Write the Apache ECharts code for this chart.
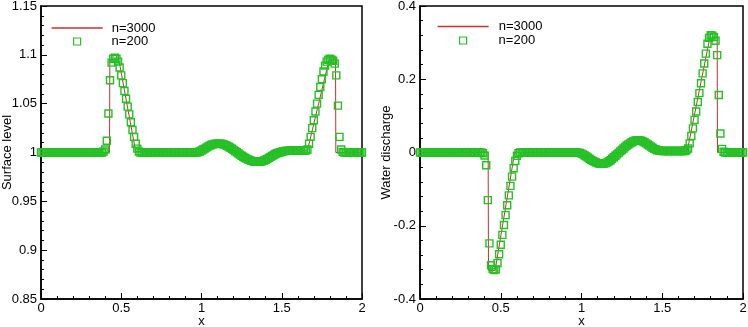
<!DOCTYPE html>
<html>
<head>
<meta charset="utf-8">
<script src="https://cdn.jsdelivr.net/npm/echarts@6/dist/echarts.min.js"></script>
<style>
  html, body { margin: 0; padding: 0; background: #fff; }
  #chart { width: 748px; height: 327px; }
</style>
</head>
<body>
<div id="chart"></div>
<script>
// ---------- DATA ----------
const xTicks = [0, 0.5, 1, 1.5, 2];
const levelTicks = [0.85, 0.9, 0.95, 1, 1.05, 1.1, 1.15];
const dischargeTicks = [-0.4, -0.2, 0, 0.2, 0.4];

// surface level, n=200 (index i -> x = i/100)
const level200 = [
  1,1,1,1,1,1,1,1,1,1,
  1,1,1,1,1,1,1,1,1,1,
  1,1,1,1,1,1,1,1,1,1,
  1,1,1,1,1,1,1,1,1,1.001,
  1.003,1.012,1.040,1.074,1.092,1.096,1.097,1.096,1.093,1.087,
  1.079,1.071,1.063,1.055,1.047,1.039,1.031,1.023,1.016,1.009,
  1.004,1.001,1,1,1,1,1,1,1,1,
  1,1,1,1,1,1,1,1,1,1,
  1,1,1,1,1,1,1,1,1,1,
  1,1,1,1,1,1,1,1,1.0005,1.001,
  1.002,1.003,1.004,1.005,1.006,1.007,1.0077,1.0083,1.0087,1.009,
  1.0091,1.0091,1.009,1.0087,1.0082,1.0076,1.0068,1.0059,1.0049,1.0038,
  1.0026,1.0014,1.0002,0.999,0.9978,0.9967,0.9956,0.9946,0.9937,0.9929,
  0.9922,0.9916,0.9911,0.9908,0.9906,0.9905,0.9906,0.9908,0.9912,0.9918,
  0.9926,0.9935,0.9945,0.9955,0.9965,0.9975,0.9984,0.9992,0.9998,1.0003,
  1.0008,1.0012,1.0015,1.0017,1.0018,1.0019,1.002,1.002,1.002,1.002,
  1.002,1.002,1.002,1.002,1.002,1.002,1.003,1.009,1.016,1.025,
  1.033,1.042,1.050,1.059,1.067,1.075,1.083,1.089,1.093,1.095,
  1.096,1.095,1.094,1.091,1.079,1.048,1.016,1.003,1.0005,1,
  1,1,1,1,1,1,1,1,1,1,
  1
];

// water discharge, n=200
const discharge200 = [
  0,0,0,0,0,0,0,0,0,0,
  0,0,0,0,0,0,0,0,0,0,
  0,0,0,0,0,0,0,0,0,0,
  0,0,0,0,0,0,0,0,0,-0.002,
  -0.008,-0.035,-0.130,-0.248,-0.308,-0.318,-0.321,-0.319,-0.302,-0.278,
  -0.252,-0.225,-0.198,-0.171,-0.144,-0.117,-0.091,-0.066,-0.043,-0.023,
  -0.009,-0.002,0,0,0,0,0,0,0,0,
  0,0,0,0,0,0,0,0,0,0,
  0,0,0,0,0,0,0,0,0,0,
  0,0,0,0,0,0,0,0,-0.0005,-0.001,
  -0.003,-0.005,-0.008,-0.011,-0.014,-0.017,-0.020,-0.023,-0.025,-0.027,
  -0.029,-0.030,-0.031,-0.031,-0.030,-0.029,-0.027,-0.024,-0.021,-0.017,
  -0.013,-0.009,-0.005,-0.001,0.003,0.007,0.011,0.015,0.019,0.022,
  0.025,0.028,0.030,0.032,0.033,0.033,0.033,0.032,0.030,0.028,
  0.025,0.022,0.019,0.016,0.013,0.010,0.008,0.006,0.005,0.005,
  0.004,0.004,0.004,0.004,0.004,0.004,0.004,0.004,0.004,0.004,
  0.004,0.004,0.004,0.004,0.004,0.006,0.011,0.025,0.045,0.066,
  0.089,0.112,0.138,0.162,0.189,0.216,0.243,0.270,0.297,0.313,
  0.320,0.319,0.315,0.305,0.266,0.157,0.052,0.010,0.002,0,
  0,0,0,0,0,0,0,0,0,0,
  0
];

// fine (n=3000) reference solution, read at key points
const levelFineX = [0,0.427,0.429,0.44,0.475,0.487,0.59,0.60,0.98,1.0,1.05,1.11,1.17,1.23,1.29,1.35,1.40,1.45,1.50,1.55,1.64,1.66,1.795,1.835,1.837,2];
const levelFineY = [1,1,1.094,1.096,1.096,1.093,1.001,1,1,1.002,1.007,1.009,1.005,0.9995,0.9935,0.9905,0.994,0.9985,1.0012,1.0018,1.0018,1.002,1.095,1.096,1,1];
const dischargeFineX = [0,0.422,0.424,0.465,0.475,0.585,0.60,0.98,1.0,1.06,1.12,1.18,1.235,1.29,1.35,1.41,1.47,1.50,1.64,1.655,1.80,1.84,1.842,2];
const dischargeFineY = [0,0,-0.322,-0.322,-0.318,-0.003,0,0,-0.003,-0.02,-0.031,-0.019,0,0.025,0.033,0.022,0.006,0.004,0.004,0.005,0.325,0.325,0,0];

const seriesNames = ['n=3000', 'n=200'];
const yNames = ['Surface level', 'Water discharge'];
const xName = 'x';

// ---------- CHART ----------
const xs = level200.map((_, i) => +(i / 100).toFixed(2));
const pairs = (xa, ya) => xa.map((x, i) => [x, ya[i]]);

const RED = '#c8302c';
const GREEN = '#25c025';
const FONT = 'Liberation Sans';
const txt = { color: '#000', fontFamily: FONT, fontSize: 13 };

function xAxisDef(gi) {
  return {
    type: 'value', gridIndex: gi, min: xTicks[0], max: xTicks[xTicks.length - 1],
    interval: xTicks[1] - xTicks[0],
    name: xName, nameLocation: 'middle', nameGap: 16, nameMoveOverlap: false, nameTextStyle: txt,
    axisLine: { show: true, onZero: false, lineStyle: { color: '#000', width: 1.5 } },
    axisTick: { show: true, inside: true, length: 6, lineStyle: { color: '#000', width: 1 } },
    minorTick: { show: true, splitNumber: 5, length: 3, lineStyle: { color: '#000', width: 1 } },
    axisLabel: Object.assign({ margin: 3 }, txt),
    splitLine: { show: false }
  };
}
function yAxisDef(gi, ticks, name) {
  return {
    type: 'value', gridIndex: gi, min: ticks[0], max: ticks[ticks.length - 1],
    interval: +(ticks[1] - ticks[0]).toFixed(3),
    name: name, nameLocation: 'middle', nameGap: 27, nameMoveOverlap: false, nameTextStyle: txt,
    axisLine: { show: true, onZero: false, lineStyle: { color: '#000', width: 1.5 } },
    axisTick: { show: true, inside: true, length: 6, lineStyle: { color: '#000', width: 1 } },
    minorTick: { show: true, splitNumber: 5, length: 3, lineStyle: { color: '#000', width: 1 } },
    axisLabel: Object.assign({ margin: 4 }, txt),
    splitLine: { show: false }
  };
}
function lineSeries(gi, data) {
  return {
    name: seriesNames[0], type: 'line', xAxisIndex: gi, yAxisIndex: gi,
    data: data, symbol: 'none', z: 2, clip: false, animation: false,
    lineStyle: { color: RED, width: 1 }, itemStyle: { color: RED }
  };
}
function scatterSeries(gi, data) {
  return {
    name: seriesNames[1], type: 'scatter', xAxisIndex: gi, yAxisIndex: gi,
    data: data, symbol: 'rect', symbolSize: 7, z: 3, clip: false, animation: false,
    itemStyle: { color: 'rgba(0,0,0,0)', borderColor: GREEN, borderWidth: 1.4, opacity: 1 }
  };
}
function lineLegend(left, top, pad) {
  return {
    left: left, top: top, padding: 0, itemGap: 0, itemWidth: 51, itemHeight: 7,
    textStyle: Object.assign({ padding: [0, 0, 0, pad] }, txt),
    data: [{ name: seriesNames[0],
             itemStyle: { color: 'rgba(0,0,0,0)', borderColor: 'rgba(0,0,0,0)', borderWidth: 0 },
             lineStyle: { color: RED, width: 1.3, opacity: 1 } }],
    selectedMode: false
  };
}
function squareLegend(left, top, pad) {
  return {
    left: left, top: top, padding: 0, itemGap: 0, itemWidth: 7, itemHeight: 7,
    textStyle: Object.assign({ padding: [0, 0, 0, pad] }, txt),
    data: [{ name: seriesNames[1], icon: 'rect',
             itemStyle: { color: 'rgba(0,0,0,0)', borderColor: GREEN, borderWidth: 1.2 } }],
    selectedMode: false
  };
}

const chart = echarts.init(document.getElementById('chart'), null, { renderer: 'canvas' });
chart.setOption({
  animation: false,
  backgroundColor: '#fff',
  grid: [
    { left: 41, right: 386, top: 6, bottom: 28, show: true, borderColor: '#000', borderWidth: 1.5,
      backgroundColor: 'transparent', containLabel: false, outerBoundsMode: 'none' },
    { left: 420, right: 5, top: 6, bottom: 28, show: true, borderColor: '#000', borderWidth: 1.5,
      backgroundColor: 'transparent', containLabel: false, outerBoundsMode: 'none' }
  ],
  legend: [
    lineLegend(51, 21.5, 4), squareLegend(73, 35, 26),
    lineLegend(437, 20, 5), squareLegend(459, 34, 27)
  ],
  xAxis: [xAxisDef(0), xAxisDef(1)],
  yAxis: [yAxisDef(0, levelTicks, yNames[0]), yAxisDef(1, dischargeTicks, yNames[1])],
  series: [
    lineSeries(0, pairs(levelFineX, levelFineY)),
    scatterSeries(0, pairs(xs, level200)),
    lineSeries(1, pairs(dischargeFineX, dischargeFineY)),
    scatterSeries(1, pairs(xs, discharge200))
  ]
});
</script>
</body>
</html>
